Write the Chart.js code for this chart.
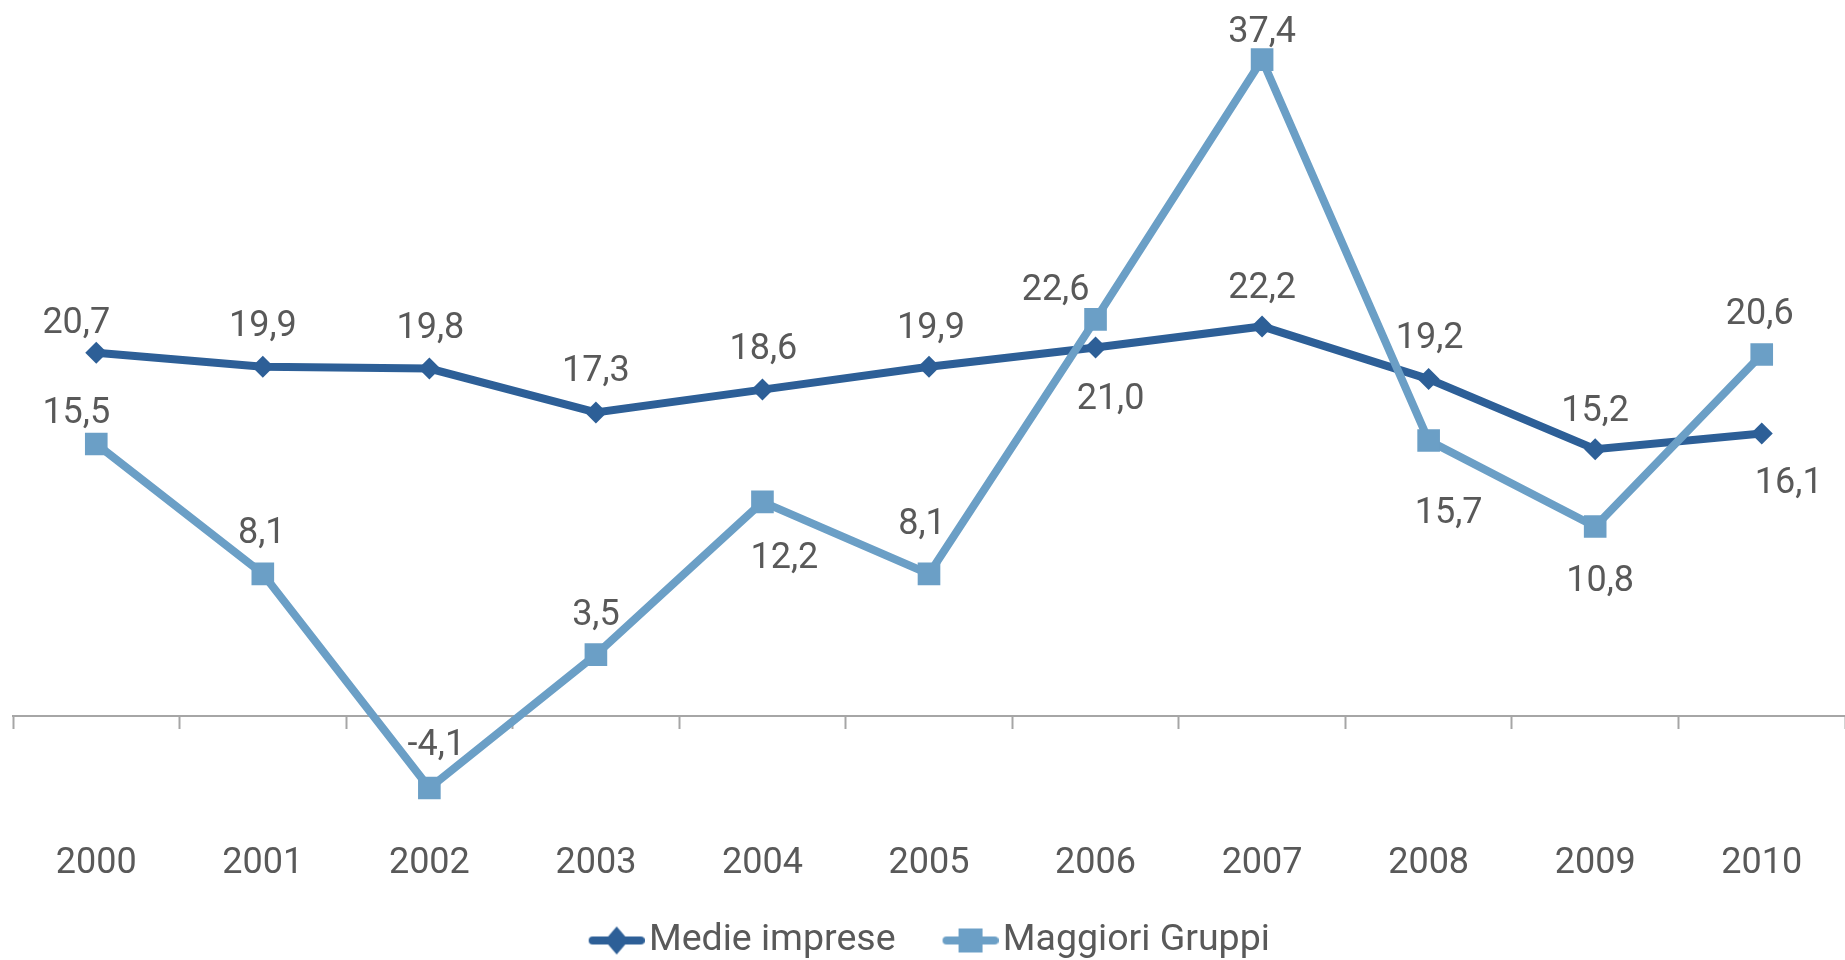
<!DOCTYPE html>
<html>
<head>
<meta charset="utf-8">
<script src="https://cdn.jsdelivr.net/npm/chart.js@4/dist/chart.umd.min.js"></script>
<style>
  html, body { margin: 0; padding: 0; background: #ffffff; overflow: hidden; }
  #wrap { width: 1845px; height: 960px; position: relative; }
  #c { display: block; }
</style>
</head>
<body>
<div id="wrap"><canvas id="c"></canvas></div>
<script>
const categories = ['2000', '2001', '2002', '2003', '2004', '2005', '2006', '2007', '2008', '2009', '2010'];
const medieImprese = [20.7, 19.9, 19.8, 17.3, 18.6, 19.9, 21.0, 22.2, 19.2, 15.2, 16.1];
const maggioriGruppi = [15.5, 8.1, -4.1, 3.5, 12.2, 8.1, 22.6, 37.4, 15.7, 10.8, 20.6];
const seriesNames = ['Medie imprese', 'Maggiori Gruppi'];

// label placement (pixel offsets of the label's visual centre from its point)
const medieLabelOffsets = [[-20,-33],[0,-44],[1,-43],[0,-44],[1,-43],[2,-42],[15,49],[0,-41],[1,-44],[0,-41],[27,47]];
const maggioriLabelOffsets = [[-20,-34],[-1,-44],[7,-46],[0,-42],[22,53],[-7,-53],[-40,-32],[0,-30],[20,70],[5,52],[-2,-43]];

const DARK = '#2D5F97';
const LIGHT = '#6B9FC6';
const TEXT = '#595959';
const AXIS = '#A6A6A6';
const FONT = 'Roboto, "Noto Sans", sans-serif';
const LABEL_SIZE = 36;

// legend icon: line with marker, drawn in the right part of a wider canvas
function legendIcon(color, shape) {
  const cv = document.createElement('canvas');
  cv.width = 71; cv.height = 34;
  const g = cv.getContext('2d');
  const x0 = 15;
  g.strokeStyle = color; g.lineWidth = 8; g.lineCap = 'round';
  g.beginPath(); g.moveTo(x0 + 4, 17); g.lineTo(x0 + 52, 17); g.stroke();
  g.fillStyle = color;
  g.beginPath();
  if (shape === 'diamond') {
    g.moveTo(x0 + 28, 3); g.lineTo(x0 + 40, 17); g.lineTo(x0 + 28, 31); g.lineTo(x0 + 16, 17); g.closePath();
  } else {
    g.rect(x0 + 16, 5, 24, 24);
  }
  g.fill();
  return cv;
}
const icons = [legendIcon(DARK, 'diamond'), legendIcon(LIGHT, 'square')];

const fmt = v => v.toFixed(1).replace('.', ',');

const dataLabels = {
  id: 'dataLabels',
  afterDatasetsDraw(chart) {
    const ctx = chart.ctx;
    const offsets = [medieLabelOffsets, maggioriLabelOffsets];
    ctx.save();
    ctx.font = LABEL_SIZE + 'px ' + FONT;
    ctx.fillStyle = TEXT;
    ctx.textAlign = 'center';
    ctx.textBaseline = 'alphabetic';
    const half = LABEL_SIZE * 0.711 / 2;
    chart.data.datasets.forEach((ds, di) => {
      const meta = chart.getDatasetMeta(di);
      meta.data.forEach((pt, i) => {
        const off = offsets[di][i];
        ctx.fillText(fmt(ds.data[i]), pt.x + off[0], pt.y + off[1] + half);
      });
    });
    ctx.restore();
  }
};

new Chart(document.getElementById('c'), {
  type: 'line',
  data: {
    labels: categories,
    datasets: [
      {
        label: seriesNames[0],
        data: medieImprese,
        borderColor: DARK,
        backgroundColor: DARK,
        borderWidth: 8,
        pointStyle: 'rectRot',
        pointRadius: 11,
        pointBorderWidth: 0,
        pointBackgroundColor: DARK,
        tension: 0,
        order: 1
      },
      {
        label: seriesNames[1],
        data: maggioriGruppi,
        borderColor: LIGHT,
        backgroundColor: LIGHT,
        borderWidth: 8,
        pointStyle: 'rect',
        pointRadius: 16,
        pointBorderWidth: 0,
        pointBackgroundColor: LIGHT,
        tension: 0,
        order: 0
      }
    ]
  },
  options: {
    responsive: true,
    maintainAspectRatio: false,
    animation: false,
    layout: { autoPadding: false, padding: { top: 14, left: 13, right: 0, bottom: 0 } },
    scales: {
      x: {
        type: 'category',
        position: { y: 0 },
        offset: true,
        grid: {
          display: true,
          offset: true,
          drawOnChartArea: false,
          drawTicks: true,
          tickLength: 12,
          tickWidth: 2,
          color: AXIS
        },
        border: { display: true, color: AXIS, width: 2 },
        ticks: {
          color: TEXT,
          font: { family: FONT, size: 36, lineHeight: 7.556 },
          padding: 0,
          maxRotation: 0,
          autoSkip: false
        }
      },
      y: {
        display: false,
        min: -9.07,
        max: 40
      }
    },
    plugins: {
      tooltip: { enabled: false },
      legend: {
        position: 'bottom',
        maxHeight: 84.75,
        labels: {
          usePointStyle: true,
          pointStyleWidth: 42,
          padding: 46.5,
          color: TEXT,
          font: { family: FONT, size: 37.5 },
          generateLabels(chart) {
            return chart.data.datasets.map((ds, i) => ({
              text: ds.label,
              pointStyle: icons[i],
              fillStyle: ds.borderColor,
              strokeStyle: ds.borderColor,
              lineWidth: 0,
              hidden: false,
              datasetIndex: i,
              fontColor: TEXT
            }));
          }
        }
      }
    }
  },
  plugins: [dataLabels]
});
</script>
</body>
</html>
